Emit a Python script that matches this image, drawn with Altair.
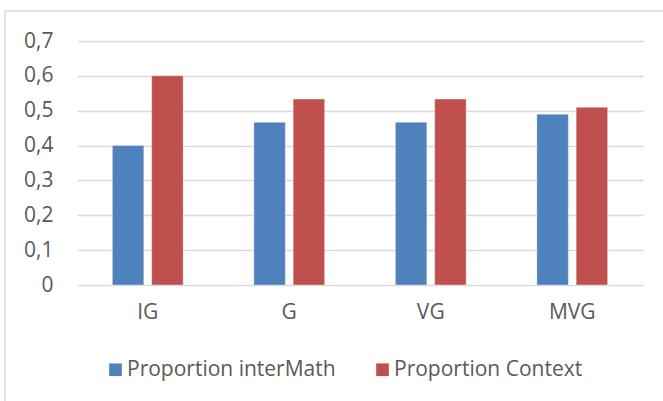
import altair as alt
import pandas as pd

# Grade categories and the two proportions per category
categories = ["IG", "G", "VG", "MVG"]
series_names = ["Proportion interMath", "Proportion Context"]
intermath = [0.40, 0.4667, 0.4667, 0.49]
context = [0.60, 0.5333, 0.5333, 0.51]
y_ticks = [0, 0.1, 0.2, 0.3, 0.4, 0.5, 0.6, 0.7]

rows = []
for cat, a, b in zip(categories, intermath, context):
    rows.append({"category": cat, "series": series_names[0], "value": a})
    rows.append({"category": cat, "series": series_names[1], "value": b})
df = pd.DataFrame(rows)

FONT = "Open Sans"
TEXT = "#595959"
SIZE = 21

bars = alt.Chart(df).mark_bar(stroke="white", strokeWidth=1, strokeOpacity=0.35).encode(
    x=alt.X("category:N", sort=categories, title=None,
            scale=alt.Scale(paddingInner=0.5, paddingOuter=0.25),
            axis=alt.Axis(labelAngle=0, ticks=False, domain=False, labelPadding=16,
                          labelFontSize=SIZE, labelColor=TEXT, labelFont=FONT, grid=False)),
    xOffset=alt.XOffset("series:N", sort=series_names,
                        scale=alt.Scale(paddingInner=0.2, paddingOuter=0)),
    y=alt.Y("value:Q", title=None,
            scale=alt.Scale(domain=[0, 0.7], nice=False),
            axis=alt.Axis(values=y_ticks,
                          labelExpr="datum.value == 0 ? '0' : replace(format(datum.value, '.1f'), '.', ',')",
                          ticks=False, domain=False, labelPadding=24,
                          labelFontSize=SIZE, labelColor=TEXT, labelFont=FONT,
                          gridColor="#D9D9D9", gridWidth=1.5)),
    color=alt.Color("series:N", sort=series_names,
                    scale=alt.Scale(domain=series_names, range=["#4F81BD", "#C0504D"]),
                    legend=alt.Legend(title=None, orient="none", direction="horizontal",
                                      legendX=28, legendY=318, symbolType="square",
                                      symbolSize=160, symbolStrokeWidth=0,
                                      labelFontSize=SIZE, labelColor=TEXT, labelFont=FONT,
                                      labelLimit=400, columnPadding=36, labelOffset=1)),
)

# light outer frame around the chart
frame = alt.Chart(pd.DataFrame({"k": [0]})).mark_rect(
    fill=None, stroke="#D9D9D9", strokeWidth=1.5
).encode(x=alt.value(-72), x2=alt.value(640), y=alt.value(-30), y2=alt.value(400))

chart = alt.layer(bars, frame).properties(
    width=566, height=244,
    autosize=alt.AutoSizeParams(type="none"),
    padding={"left": 77, "top": 41, "right": 20, "bottom": 116},
    background="white",
).configure_view(stroke=None)

chart.save("out.html", embed_options={"renderer": "svg", "actions": False})
